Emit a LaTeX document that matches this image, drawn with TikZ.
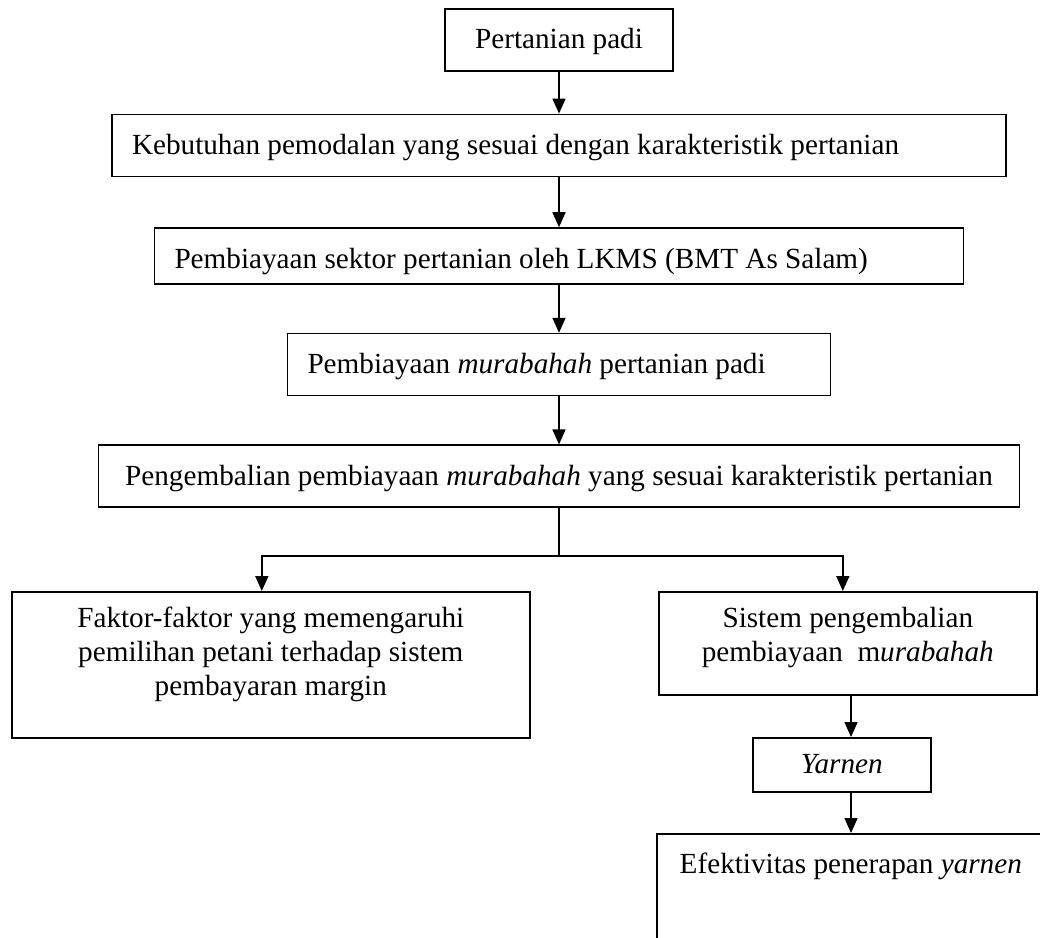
\documentclass[tikz,border=0pt]{standalone}
\usepackage{fontspec}
\setmainfont{Liberation Serif}
\usetikzlibrary{positioning, arrows.meta, calc}

\tikzset{
  kotak/.style={draw, line width=1.6pt, inner xsep=20pt, inner ysep=0pt,
    text height=40pt, text depth=22pt},
  blok/.style={draw, line width=1.6pt, inner xsep=20pt, inner ysep=12.5pt},
  panah/.style={line width=1.6pt, -{Triangle[length=15pt, width=13pt]}}
}

\begin{document}
\begin{tikzpicture}[x=1pt, y=-1pt, node distance=48pt,
    font=\fontsize{29.2pt}{33.6pt}\selectfont]
    \useasboundingbox (0,0) rectangle (1040,937);
    \clip (0,0) rectangle (1040,937);

    % alur utama
    \node[kotak, minimum width=228pt, anchor=north] (padi) at (559,8) {Pertanian padi};
    \node[kotak, text width=854pt, align=flush left] (modal) [below=42pt of padi]
        {Kebutuhan pemodalan yang sesuai dengan karakteristik pertanian};
    \node[kotak, text width=769pt, align=flush left, text depth=16pt] (lkms) [below=50pt of modal]
        {Pembiayaan sektor pertanian oleh LKMS (BMT As Salam)};
    \node[kotak, text width=503pt, align=flush left] (murabahah) [below=of lkms]
        {Pembiayaan \textit{murabahah} pertanian padi};
    \node[kotak, minimum width=921pt] (kembali) [below=of murabahah]
        {Pengembalian pembiayaan \textit{murabahah} yang sesuai karakteristik pertanian};

    % cabang
    \node[blok, minimum width=518pt, anchor=north west] (faktor) at (11,591)
        {\parbox[t][121pt][t]{478pt}{\centering\strut Faktor-faktor yang memengaruhi\\
        pemilihan petani terhadap sistem\\ pembayaran margin}};
    \node[blok, minimum width=378pt, anchor=north west] (sistem) at (658,591)
        {\parbox[t][78pt][t]{338pt}{\centering\strut Sistem pengembalian\\
        pembiayaan\ \ m\textit{urabahah}}};
    \node[kotak, minimum width=178pt, text height=36pt, text depth=18pt,
        anchor=north west] (yarnen) at (752,737) {\textit{Yarnen}};
    \node[kotak, minimum width=388pt, text depth=130pt, anchor=north west] (efektif)
        at (656,833) {Efektivitas penerapan \textit{yarnen}};

    \coordinate (cabang) at ($(kembali.south)+(0,48)$);
    \coordinate (jalur) at (851,0);

    \path[panah]
    (padi) edge (modal)
    (modal) edge (lkms)
    (lkms) edge (murabahah)
        (murabahah) edge (kembali);
    \draw[line width=1.6pt] (kembali.south) -- (cabang);
    \draw[panah] (cabang) -| ([xshift=-9pt]faktor.north);
    \draw[panah] (cabang) -| ([xshift=-5pt]sistem.north);
    \draw[panah] (sistem.south -| jalur) -- (yarnen.north -| jalur);
    \draw[panah] (yarnen.south -| jalur) -- (efektif.north -| jalur);
\end{tikzpicture}
\end{document}
